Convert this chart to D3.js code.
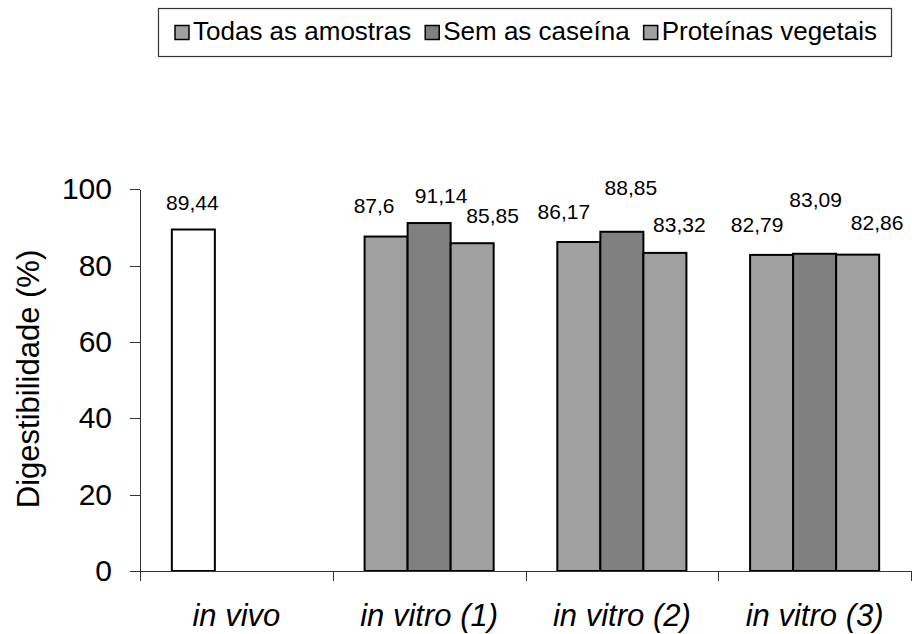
<!DOCTYPE html>
<html>
<head>
<meta charset="utf-8">
<script src="https://cdn.jsdelivr.net/npm/d3@7"></script>
<style>
	body { margin: 0; background: #fff; }
	svg { font-family: "Liberation Sans", Arial, sans-serif; display: block; }
	.axis path, .axis line { stroke: #333; stroke-width: 1; shape-rendering: crispEdges; }
	.axis text { font-size: 30px; fill: #000; }
</style>
</head>
<body>
<div class="d3"></div>
<script>
// data
var categories = ["in vivo", "in vitro (1)", "in vitro (2)", "in vitro (3)"];
var seriesNames = ["Todas as amostras", "Sem as caseína", "Proteínas vegetais"];
var todasAmostras = [89.44, 87.6, 86.17, 82.79];
var semCaseina = [null, 91.14, 88.85, 83.09];
var proteinasVegetais = [null, 85.85, 83.32, 82.86];
var yTicks = [0, 20, 40, 60, 80, 100];

var seriesValues = [todasAmostras, semCaseina, proteinasVegetais];
var seriesColors = ["#a0a0a0", "#808080", "#a0a0a0"];
var inVivoColor = "#ffffff";

// manual nudges of the value labels [dx, dy from bar top], as in the original
var labelNudge = [
	[[-1, -27], [-12, -31], [-15, -30.5], [-14.5, -30.5]],
	[null, [12, -27.5], [9, -44], [1, -54]],
	[null, [20.5, -28], [14.5, -28], [19.5, -32]]
];

var w = 912;
var h = 634;
var plotLeft = 140, plotRight = 911, plotTop = 189.2, plotBottom = 571;

var svg = d3.select(".d3")
	.append("svg")
	.attr("width", w)
	.attr("height", h);

// flatten into bar records
var dataset = [];
seriesValues.forEach((vals, s) => {
	vals.forEach((v, c) => {
		if (v == null) return;
		dataset.push({series: s, category: categories[c], cIdx: c, value: v});
	});
});

var x0 = d3.scaleBand()
	.domain(categories)
	.range([plotLeft, plotRight])
	.paddingInner(0)
	.paddingOuter(0);

var x1 = d3.scaleBand()
	.domain(d3.range(seriesNames.length))
	.range([0, x0.bandwidth()])
	.paddingInner(0)
	.paddingOuter(0.74);

var yScale = d3.scaleLinear()
	.domain([0, 100])
	.range([plotBottom, plotTop]);

// bars
svg.append("g")
	.selectAll("rect")
	.data(dataset)
	.enter()
	.append("rect")
	.attr("x", d => x0(d.category) + x1(d.series))
	.attr("y", d => yScale(d.value))
	.attr("width", x1.bandwidth())
	.attr("height", d => yScale(0) - yScale(d.value))
	.attr("fill", d => d.cIdx == 0 ? inVivoColor : seriesColors[d.series])
	.attr("stroke", "#000")
	.attr("stroke-width", 2);

// value labels
svg.append("g")
	.selectAll("text")
	.data(dataset)
	.enter()
	.append("text")
	.attr("x", d => x0(d.category) + x1(d.series) + x1.bandwidth() / 2 + labelNudge[d.series][d.cIdx][0])
	.attr("y", d => yScale(d.value) + labelNudge[d.series][d.cIdx][1])
	.attr("dy", "0.35em")
	.attr("text-anchor", "middle")
	.attr("font-size", "21px")
	.text(d => String(d.value).replace(".", ","));

// y axis
var yAxis = d3.axisLeft(yScale)
	.tickValues(yTicks)
	.tickSize(10)
	.tickPadding(18)
	.tickSizeOuter(0);

svg.append("g")
	.attr("class", "axis")
	.attr("transform", "translate(" + plotLeft + ",0)")
	.call(yAxis);

// x axis: ticks on the category borders
var xEdges = d3.scaleLinear()
	.domain([0, categories.length])
	.range([plotLeft, plotRight]);

svg.append("g")
	.attr("class", "axis")
	.attr("transform", "translate(0," + plotBottom + ")")
	.call(d3.axisBottom(xEdges)
		.tickValues(d3.range(categories.length + 1))
		.tickSize(10)
		.tickSizeOuter(0)
		.tickFormat(""));

// category labels
svg.append("g")
	.selectAll("text")
	.data(categories)
	.enter()
	.append("text")
	.attr("x", d => x0(d) + x0.bandwidth() / 2)
	.attr("y", 626)
	.attr("text-anchor", "middle")
	.attr("font-size", "31px")
	.attr("font-style", "italic")
	.text(d => d);

// y title
svg.append("text")
	.attr("transform", "translate(28,379) rotate(-90)")
	.attr("dy", "0.35em")
	.attr("text-anchor", "middle")
	.attr("font-size", "31px")
	.text("Digestibilidade (%)");

// legend
svg.append("rect")
	.attr("x", 158.5)
	.attr("y", 8.5)
	.attr("width", 733)
	.attr("height", 48)
	.attr("fill", "#fff")
	.attr("stroke", "#333")
	.attr("stroke-width", 1.2);

var legend = svg.append("g");
var lx = 175;
seriesNames.forEach((name, i) => {
	legend.append("rect")
		.attr("x", lx)
		.attr("y", 25.5)
		.attr("width", 14)
		.attr("height", 14)
		.attr("fill", seriesColors[i])
		.attr("stroke", "#000")
		.attr("stroke-width", 1.5);
	var t = legend.append("text")
		.attr("x", lx + 18)
		.attr("y", 40)
		.attr("font-size", "26px")
		.text(name);
	lx = lx + 18 + t.node().getComputedTextLength() + 14;
});
</script>
</body>
</html>
